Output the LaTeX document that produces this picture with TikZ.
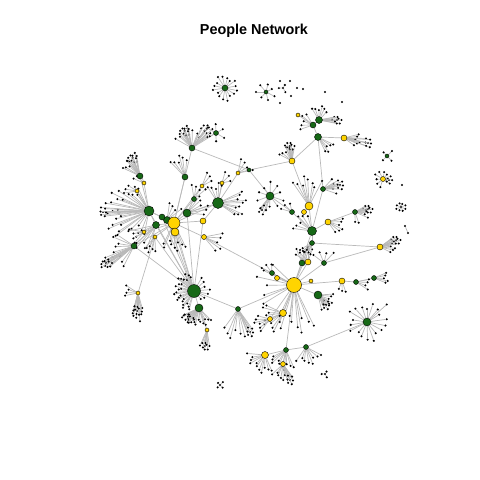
\documentclass[tikz,border=0pt]{standalone}
\usepackage{fontspec}
\setmainfont{Liberation Sans}
\pgfdeclarelayer{bg}
\pgfsetlayers{bg,main}
\definecolor{netgreen}{RGB}{22,104,22}
\definecolor{netgold}{RGB}{255,212,0}
\tikzset{
  gnode/.style={circle,draw=black,fill=netgreen,inner sep=0pt,minimum size=#1,line width=0.4pt},
  ynode/.style={circle,draw=black,fill=netgold,inner sep=0pt,minimum size=#1,line width=0.4pt},
  leaf/.style={circle,fill=black,inner sep=0pt,minimum size=2.3pt},
  link/.style={draw=gray!55,line width=0.7pt}
}
% hub, start angle, end angle, number of leaves, radius
\newcommand\fan[5]{%
  \foreach \i in {1,...,#4}{%
    \pgfmathsetmacro\ang{#2+((#3)-(#2))*(\i-0.5)/#4+mod(\i*3,5)-2}
    \pgfmathsetmacro\rad{#5*(0.65+0.35*mod(\i*5,7)/6)}
    \path (#1) ++(\ang:\rad) node[leaf] (#1-#2-\i) {};
    \draw[link] (#1) -- (#1-#2-\i);
  }}
% clump centre, hub, number of leaves, spread
\newcommand\clump[4]{%
  \draw[link] (#2) -- (#1);
  \foreach \i in {1,...,#3}{%
    \pgfmathsetmacro\ang{360*\i/#3+mod(\i*7,11)}
    \pgfmathsetmacro\rad{#4*(0.4+0.6*mod(\i*5,7)/6)}
    \path (#1) ++(\ang:\rad) node[leaf] (#1-\i) {};
    \draw[link] (#2) -- (#1-\i);
  }}
\begin{document}
\begin{tikzpicture}[x=1pt,y=-1pt]
	\useasboundingbox (0,0) rectangle (480,480);
	\node[font=\bfseries\fontsize{14.4}{17}\selectfont] (title) at (254,31) {People Network};

	% hubs
	\foreach \n/\x/\y/\s in {gA/149/211/10, gB/167/220/7, gC/162/217/6, gD/156/225/7,
	    gE/187/213/8, gF/218/203/11, gG/140/176/6, gH/185/177/6, gI/192/148/6, gJ/216/133/5,
	    gK/134/246/6, gL/194/199/5, gM/194/291/13, gN/199/308/8, gO/238/309/5, gP/272/273/5,
	    gQ/302/263/6, gR/324/263/5, gS/318/295/8, gT/356/282/5, gU/374/278/5, gV/367/322/8,
	    gW/286/350/5, gX/306/347/5, gY/312/231/9, gZ/312/243/5, gAA/270/196/8, gAB/292/212/5,
	    gAC/323/189/5, gAD/355/212/5, gAE/249/170/4, gAF/319/120/7, gAG/313/125/6,
	    gAH/318/137/7, gAI/225/88/6, gAJ/266/92/4, gAK/387/156/4}
	    \node[gnode=\s pt] (\n) at (\x,\y) {};
	\foreach \n/\x/\y/\s in {yA/174/223/12, yB/175/232/8, yC/203/221/6, yD/204/237/5,
	    yE/144/183/4, yF/137/191/4, yG/202/186/4, yH/222/183/4, yI/238/173/4, yJ/144/232/4,
	    yK/155/237/4, yL/294/285/15, yM/277/278/5, yN/308/262/6, yO/311/281/4, yP/342/281/6,
	    yQ/283/313/7, yR/270/319/5, yS/265/355/7, yT/283/364/5, yU/207/330/4, yV/380/247/6,
	    yW/309/206/8, yX/304/212/5, yY/328/222/6, yZ/292/161/6, yAA/344/138/6, yAB/298/115/4,
	    yAC/383/179/5, yAD/138/293/4}
	    \node[ynode=\s pt] (\n) at (\x,\y) {};

	\begin{pgfonlayer}{bg}
	% links between hubs
	\foreach \a/\b in {gA/yA, gA/gD, gA/gC, gB/yA, gC/yA, gD/yA, gE/yA, yB/yA, gF/yA, gF/gE,
	    yC/yA, yD/yA, yC/gF, gG/gA, yE/gA, yF/gA, gH/yA, gI/yA, gI/gAE, gJ/gI, gL/yA, gE/gL,
	    yG/yA, yH/gF, yI/gF, gK/yA, gK/gD, yJ/yA, yK/yA, gM/yA, gM/gD, gM/yB, gM/gB, gM/gA,
	    gM/gK, gM/yK, gM/gE, gM/yC, gM/gC, gN/gM, yU/gN, gO/gM, gO/yL, yD/yL, yL/gP, yL/yM,
	    yL/gQ, yL/yN, yL/gR, yL/gY, yL/gZ, yL/yO, yL/yP, yP/gT, gT/gU, yL/gS, yL/yQ, yL/yR,
	    yQ/yR, yL/gW, gW/gX, gX/gV, yS/gW, yT/gW, gY/gZ, gY/yW, yW/yX, yW/yZ, yZ/gAH,
	    gAH/gAG, gAG/gAF, gAG/yAB, gAH/yAA, gY/yY, yY/gAD, gAH/gAC, gAC/gY, gAA/gAE, gAA/gAB,
	    gAB/gY, gAE/yZ, yI/gAE, yV/gZ, yV/gR, yAD/yK}
	    \draw[link] (\a) -- (\b);

	% leaves
	\foreach \h/\p/\q/\c/\r in {gA/140/215/16/44, gA/215/250/5/28, gA/95/140/4/25,
	    yA/60/120/9/28, gD/100/170/8/30, gE/-60/10/6/22, gF/-30/40/10/28, gF/230/290/5/20,
	    gG/200/250/6/20, gH/220/280/6/22, gI/200/330/8/20, gJ/0/360/6/10, gK/110/220/9/24,
	    gL/250/330/4/15, yE/190/260/3/12, yF/160/220/3/14, yG/-80/-20/3/15, yH/-90/0/3/12,
	    yI/-90/0/4/15, yJ/120/200/4/15, yK/80/140/4/15, gB/-90/-30/4/18, yD/-20/60/5/20,
	    yAD/160/220/4/14, yAD/80/100/2/30,
	    gM/100/260/24/20, gM/-70/60/7/16, gN/40/160/15/18, gO/70/130/6/30, gP/190/280/3/12,
	    gQ/240/300/4/16, gR/200/330/4/14, gS/-10/80/8/16, gT/-20/40/4/14, gU/-30/30/5/14,
	    gV/0/360/18/20, gV/-45/-40/1/28, gW/60/160/10/20, gX/20/130/8/18, yQ/110/210/9/22,
	    yR/120/200/6/16, yS/60/190/11/18, yT/50/140/8/16, yL/60/120/10/48, yL/140/230/6/38,
	    yN/200/300/5/15, yW/230/300/8/30, gY/180/260/6/20, gZ/90/160/5/12, gAA/0/360/10/15,
	    gAB/180/270/3/12, gAC/-60/30/4/14, gAD/-20/30/4/14, gAD/60/100/2/12, yV/-30/30/6/15,
	    yY/-20/60/6/16, yZ/200/280/6/15, gAF/230/320/6/14, gAG/150/250/5/14, gAH/20/70/5/18,
	    yAA/-20/40/6/16, yP/60/120/3/12, gAI/0/360/16/13, gAJ/0/360/7/10, yAC/90/330/7/9,
	    gAK/0/360/4/7}
	    \fan{\h}{\p}{\q}{\c}{\r};

	% tight groups of leaves on one hub
	\foreach \n/\x/\y/\f/\c/\r in {c1/133/158/gG/10/6, c2/106/263/gK/11/6, c3/137/311/yAD/12/6,
	    c4/185/131/gI/10/6, c5/207/129/gI/8/6, c6/205/346/yU/8/5, c7/337/120/gAF/8/5,
	    c8/368/143/yAA/6/5, c9/290/146/yZ/8/5, c10/340/185/gAC/6/5, c11/368/209/gAD/8/5,
	    c12/396/240/yV/8/5, c13/326/305/gS/6/5, c14/103/212/gA/6/5, c15/250/332/gO/6/5,
	    c16/290/380/yT/6/5, c17/188/318/gN/8/6, c18/262/210/gAA/5/5, c19/389/180/yAC/5/4}{
	    \node[leaf] (\n) at (\x,\y) {};
	    \clump{\n}{\f}{\c}{\r};
	}

	% separate little groups
	\foreach \n/\x/\y/\c/\r in {i1/401/207/8/5, i3/220/385/4/4, i4/325/374/3/4, i5/283/88/3/5}{
	    \node[leaf] (\n) at (\x,\y) {};
	    \fan{\n}{0}{360}{\c}{\r};
	}
	\node[leaf] (p1) at (405,226) {};
	\node[leaf] (p2) at (408,233) {};
	\draw[link] (p1) -- (p2);
	\foreach \n/\x/\y in {d1/280/81, d2/290/81, d3/297/88, d4/303/89, d5/325/92, d6/342/102,
	    d7/280/103, d8/291/96, d9/402/185}
	    \node[leaf] (\n) at (\x,\y) {};
	\end{pgfonlayer}
\end{tikzpicture}
\end{document}
